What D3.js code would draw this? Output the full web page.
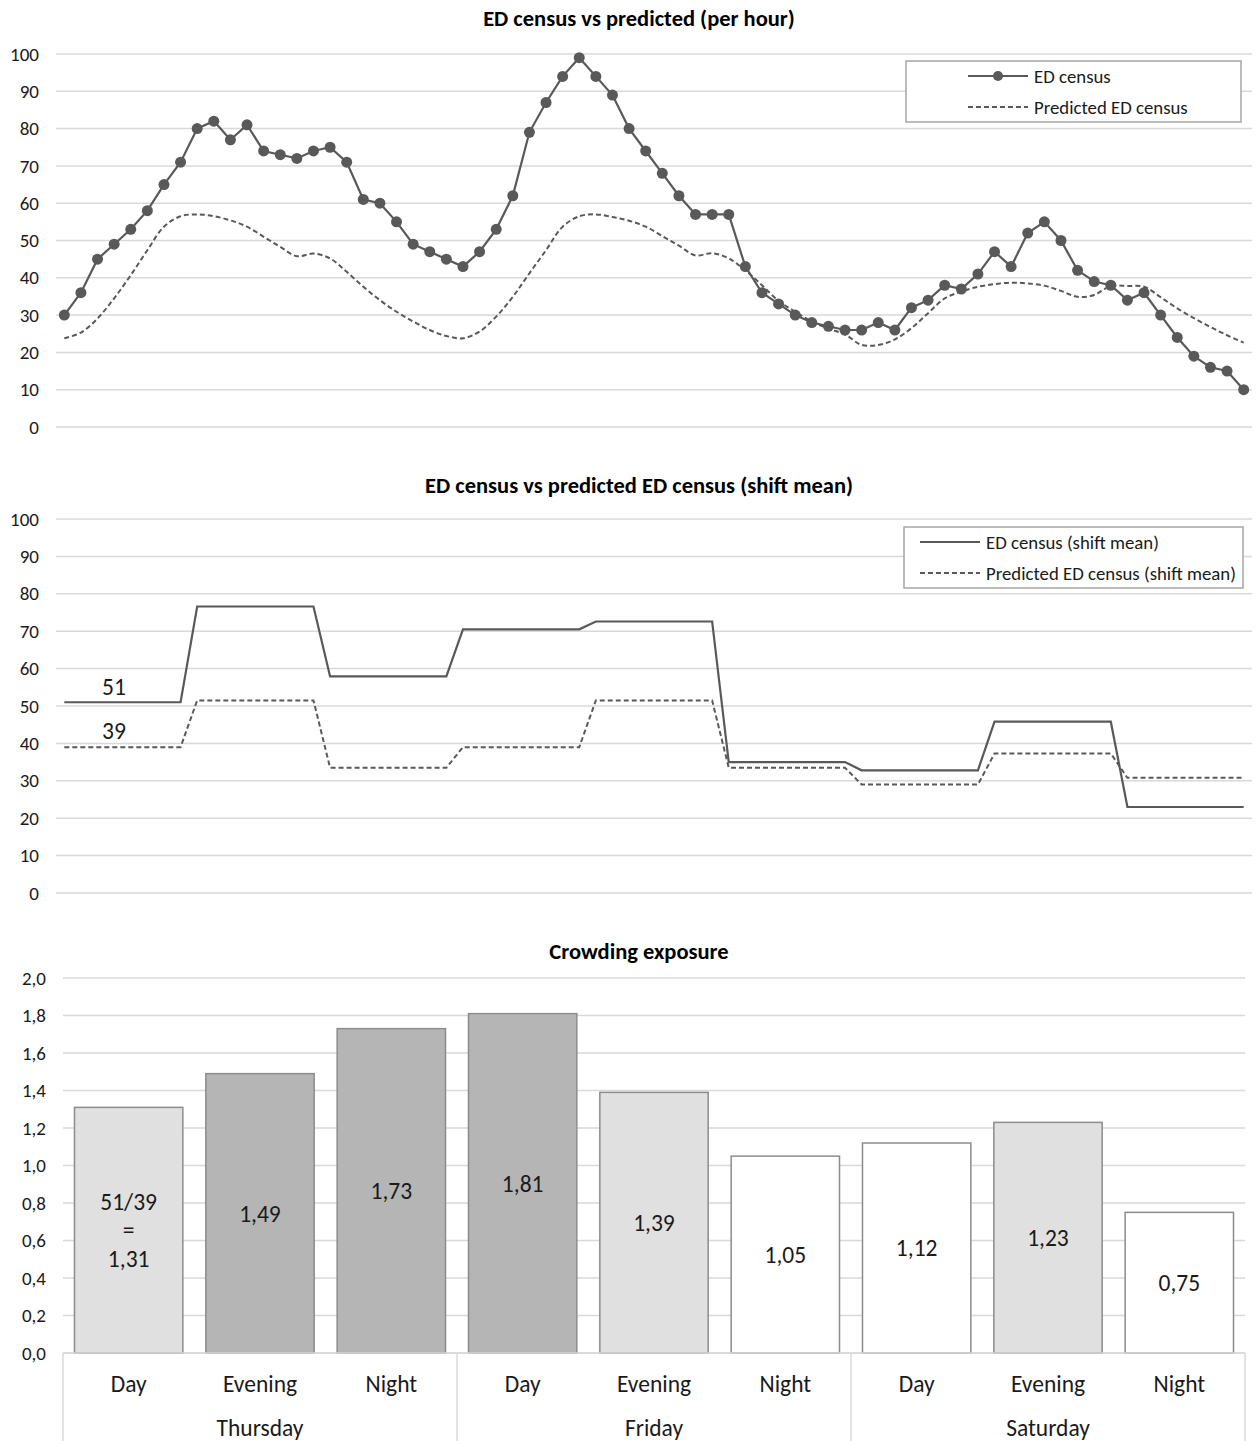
<!DOCTYPE html>
<html>
<head>
<meta charset="utf-8">
<title>ED census and crowding exposure</title>
<script src="https://d3js.org/d3.v7.min.js"></script>
<style>
  body { margin: 0; background: #fff; }
  svg { font-family: Carlito, Calibri, Lato, sans-serif; }
</style>
</head>
<body>
<svg width="1259" height="1441"></svg>
<script>
// hourly values, Thursday 00h .. Saturday 23h
const hours = d3.range(1, 73);
const censusHourly = [
  30, 36, 45, 49, 53, 58, 65, 71, 80, 82, 77, 81, 74, 73, 72, 74, 75, 71, 61, 60, 55, 49, 47, 45,
  43, 47, 53, 62, 79, 87, 94, 99, 94, 89, 80, 74, 68, 62, 57, 57, 57, 43, 36, 33, 30, 28, 27, 26,
  26, 28, 26, 32, 34, 38, 37, 41, 47, 43, 52, 55, 50, 42, 39, 38, 34, 36, 30, 24, 19, 16, 15, 10
];
const predictedHourly = [
  23.8, 25.3, 29.1, 34.5, 40.7, 47.4, 53.7, 56.5, 57.0, 56.5, 55.4, 53.7, 51.0, 48.3, 45.8, 46.5,
  45.2, 41.6, 37.6, 34.0, 30.9, 28.3, 26.0, 24.4,
  23.8, 25.6, 29.6, 34.9, 41.2, 47.4, 53.7, 56.5, 57.0, 56.3, 55.3, 53.7, 51.2, 48.6, 46.0, 46.6,
  45.2, 42.0, 38.0, 33.8, 30.9, 28.3, 26.4, 24.8,
  22.0, 22.0, 23.5, 26.5, 30.5, 34.5, 36.3, 37.6, 38.3, 38.7, 38.5, 37.9, 36.5, 34.9, 35.4, 37.8,
  37.8, 37.6, 34.8, 31.8, 29.2, 26.8, 24.6, 22.6
];

// shift means (8-hour shifts)
const days = ["Thursday", "Friday", "Saturday"];
const shifts = ["Day", "Evening", "Night"];
const censusShiftMean = [51, 76.6, 57.9, 70.5, 72.6, 35, 32.8, 45.8, 23];
const predictedShiftMean = [39, 51.5, 33.5, 39, 51.5, 33.5, 29, 37.3, 30.8];
const hoursPerShift = 8;

// crowding exposure
const exposure = [1.31, 1.49, 1.73, 1.81, 1.39, 1.05, 1.12, 1.23, 0.75];
const exposureLabels = [["51/39", "=", "1,31"], ["1,49"], ["1,73"], ["1,81"], ["1,39"],
  ["1,05"], ["1,12"], ["1,23"], ["0,75"]];
const exposureShade = ["light", "dark", "dark", "dark", "light", "white", "white", "light", "white"];

const yTicksCensus = d3.range(0, 101, 10);
const yTicksExposure = d3.range(0, 2.01, 0.2);

const svg = d3.select("svg");
const lineColor = "#595959", gridColor = "#d9d9d9", textColor = "#1a1a1a";
const shadeColor = {light: "#e0e0e0", dark: "#b5b5b5", white: "#ffffff"};

const x = d3.scalePoint().domain(hours).range([56, 1252]).padding(0.5);

function title(text, y) {
  svg.append("text").attr("x", 639).attr("y", y).attr("text-anchor", "middle")
    .attr("font-weight", "bold").attr("font-size", 22.5).attr("fill", "#000").text(text);
}

function yGrid(y, ticks, x0, x1, labelX, fmt) {
  const g = svg.append("g");
  g.selectAll("line").data(ticks).join("line")
    .attr("x1", x0).attr("x2", x1)
    .attr("y1", d => y(d)).attr("y2", d => y(d))
    .attr("stroke", gridColor).attr("stroke-width", 1.5);
  g.selectAll("text").data(ticks).join("text")
    .attr("x", labelX).attr("y", d => y(d)).attr("dy", "0.35em")
    .attr("text-anchor", "end").attr("font-size", 19).attr("fill", textColor)
    .text(fmt);
}

function legend(x0, y0, w, items) {
  const g = svg.append("g");
  g.append("rect").attr("x", x0).attr("y", y0).attr("width", w).attr("height", 61)
    .attr("fill", "#fff").attr("stroke", "#a6a6a6").attr("stroke-width", 1.5);
  items.forEach((it, i) => {
    const yy = y0 + 15 + i * 31;
    g.append("line").attr("x1", it.lx).attr("x2", it.lx + 60).attr("y1", yy).attr("y2", yy)
      .attr("stroke", lineColor).attr("stroke-width", 2)
      .attr("stroke-dasharray", it.dash ? "5,3" : null);
    if (it.marker) g.append("circle").attr("cx", it.lx + 30).attr("cy", yy).attr("r", 5).attr("fill", lineColor);
    g.append("text").attr("x", it.lx + 66).attr("y", yy).attr("dy", "0.35em")
      .attr("font-size", 18.8).attr("fill", textColor).text(it.label);
  });
}

// ---- chart 1: per hour
title("ED census vs predicted (per hour)", 26);
const y1 = d3.scaleLinear().domain([0, 100]).range([427, 54]);
yGrid(y1, yTicksCensus, 56, 1252, 39, d => d);

svg.append("path").datum(predictedHourly)
  .attr("fill", "none").attr("stroke", lineColor).attr("stroke-width", 2).attr("stroke-dasharray", "5,3")
  .attr("d", d3.line().x((d, i) => x(hours[i])).y(d => y1(d)).curve(d3.curveCatmullRom));

svg.append("path").datum(censusHourly)
  .attr("fill", "none").attr("stroke", lineColor).attr("stroke-width", 2.2)
  .attr("d", d3.line().x((d, i) => x(hours[i])).y(d => y1(d)));

svg.append("g").selectAll("circle").data(censusHourly).join("circle")
  .attr("cx", (d, i) => x(hours[i])).attr("cy", d => y1(d)).attr("r", 5.5).attr("fill", lineColor);

legend(906, 61, 335, [
  {label: "ED census", lx: 968, marker: true},
  {label: "Predicted ED census", lx: 968, dash: true}
]);

// ---- chart 2: shift mean
title("ED census vs predicted ED census (shift mean)", 493);
const y2 = d3.scaleLinear().domain([0, 100]).range([893, 519]);
yGrid(y2, yTicksCensus, 56, 1252, 39, d => d);

const perHour = arr => hours.map((h, i) => arr[Math.floor(i / hoursPerShift)]);
const shiftLine = d3.line().x((d, i) => x(hours[i])).y(d => y2(d));

svg.append("path").datum(perHour(predictedShiftMean))
  .attr("fill", "none").attr("stroke", lineColor).attr("stroke-width", 2).attr("stroke-dasharray", "5,3")
  .attr("d", shiftLine);
svg.append("path").datum(perHour(censusShiftMean))
  .attr("fill", "none").attr("stroke", lineColor).attr("stroke-width", 2.2)
  .attr("d", shiftLine);

svg.append("text").attr("x", 114).attr("y", y2(censusShiftMean[0]) - 7).attr("text-anchor", "middle")
  .attr("font-size", 23.5).attr("fill", textColor).text(Math.round(censusShiftMean[0]));
svg.append("text").attr("x", 114).attr("y", y2(predictedShiftMean[0]) - 8).attr("text-anchor", "middle")
  .attr("font-size", 23.5).attr("fill", textColor).text(Math.round(predictedShiftMean[0]));

legend(904, 527, 339, [
  {label: "ED census (shift mean)", lx: 920},
  {label: "Predicted ED census (shift mean)", lx: 920, dash: true}
]);

// ---- chart 3: crowding exposure
title("Crowding exposure", 959);
const y3 = d3.scaleLinear().domain([0, 2]).range([1353, 978]);
yGrid(y3, yTicksExposure, 63, 1245, 46, d => d3.format(".1f")(d).replace(".", ","));

const keys = days.flatMap(d => shifts.map(s => d + " " + s));
const xb = d3.scaleBand().domain(keys).range([63, 1245]).paddingInner(0.175).paddingOuter(0.0875);

const bars = svg.append("g").selectAll("g").data(exposure).join("g");
bars.append("rect")
  .attr("x", (d, i) => xb(keys[i])).attr("width", xb.bandwidth())
  .attr("y", d => y3(d)).attr("height", d => y3(0) - y3(d))
  .attr("fill", (d, i) => shadeColor[exposureShade[i]])
  .attr("stroke", "#8c8c8c").attr("stroke-width", 1.5);
bars.each(function(d, i) {
  const lines = exposureLabels[i];
  const cy = (y3(d) + y3(0)) / 2;
  const lh = 28.5;
  d3.select(this).selectAll("text").data(lines).join("text")
    .attr("x", xb(keys[i]) + xb.bandwidth() / 2)
    .attr("y", (t, j) => cy + (j - (lines.length - 1) / 2) * lh)
    .attr("dy", "0.35em").attr("text-anchor", "middle")
    .attr("font-size", 23.5).attr("fill", textColor).text(t => t);
});

// two-level category axis
const ax = svg.append("g");
const step = xb.step();
ax.append("line").attr("x1", 63).attr("x2", 1245).attr("y1", y3(0)).attr("y2", y3(0))
  .attr("stroke", gridColor).attr("stroke-width", 1.5);
ax.selectAll("line.sep").data(d3.range(days.length + 1)).join("line").attr("class", "sep")
  .attr("x1", i => 63 + i * step * shifts.length).attr("x2", i => 63 + i * step * shifts.length)
  .attr("y1", y3(0)).attr("y2", 1441)
  .attr("stroke", gridColor).attr("stroke-width", 1.5);
ax.selectAll("text.shift").data(keys).join("text").attr("class", "shift")
  .attr("x", k => xb(k) + xb.bandwidth() / 2).attr("y", 1384).attr("dy", "0.35em")
  .attr("text-anchor", "middle").attr("font-size", 23.5).attr("fill", textColor)
  .text(k => k.split(" ")[1]);
ax.selectAll("text.day").data(days).join("text").attr("class", "day")
  .attr("x", (d, i) => 63 + (i + 0.5) * step * shifts.length).attr("y", 1428).attr("dy", "0.35em")
  .attr("text-anchor", "middle").attr("font-size", 23.5).attr("fill", textColor)
  .text(d => d);
</script>
</body>
</html>
